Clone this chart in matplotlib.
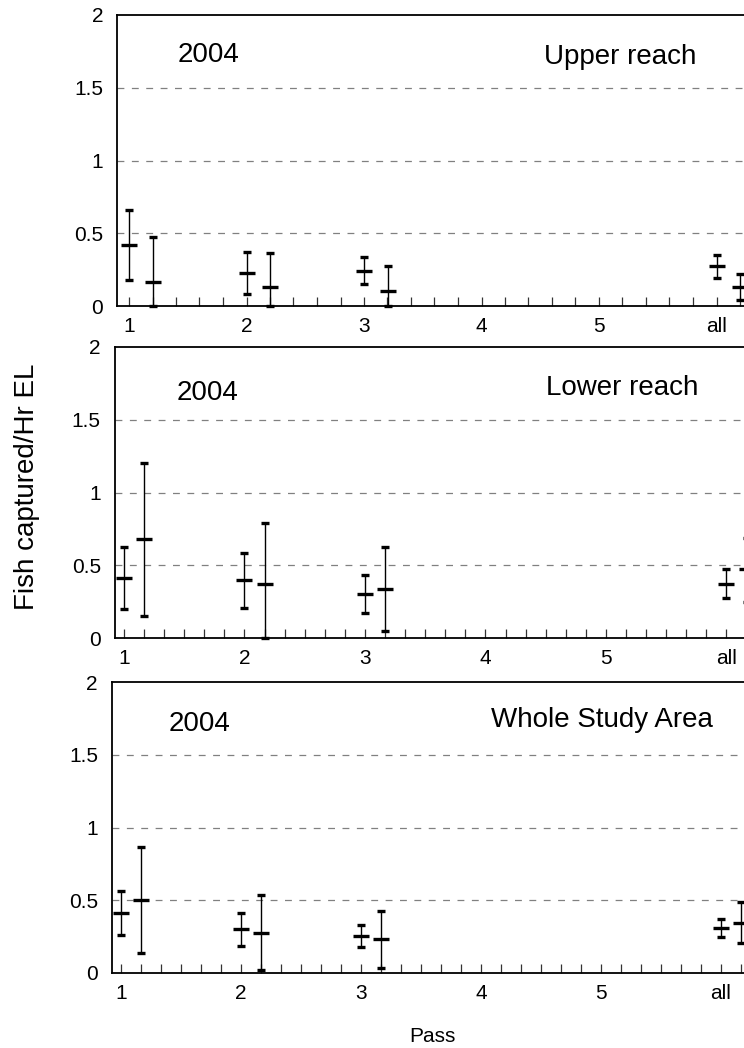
import matplotlib
matplotlib.use("Agg")
import matplotlib.pyplot as plt
import numpy as np

plt.rcParams['font.family'] = ['Liberation Sans', 'DejaVu Sans']

# ---------------- data ----------------
pass_labels = ["1", "2", "3", "4", "5", "all"]
pass_pos = [1, 2, 3, 6]          # positions of passes that have data (1,2,3,all)
year_label = "2004"
panel_titles = ["Upper reach", "Lower reach", "Whole Study Area"]

# Upper reach
up_s1_mean = [0.42, 0.225, 0.243, 0.275]
up_s1_low = [0.179, 0.08, 0.149, 0.195]
up_s1_high = [0.66, 0.373, 0.337, 0.35]
up_s2_mean = [0.163, 0.133, 0.105, 0.128]
up_s2_low = [0.0, 0.0, 0.0, 0.043]
up_s2_high = [0.472, 0.366, 0.277, 0.22]

# Lower reach
lo_s1_mean = [0.41, 0.399, 0.305, 0.371]
lo_s1_low = [0.201, 0.208, 0.172, 0.273]
lo_s1_high = [0.623, 0.586, 0.433, 0.474]
lo_s2_mean = [0.678, 0.369, 0.339, 0.472]
lo_s2_low = [0.153, 0.0, 0.05, 0.25]
lo_s2_high = [1.2, 0.788, 0.628, 0.685]

# Whole study area
wh_s1_mean = [0.41, 0.30, 0.254, 0.311]
wh_s1_low = [0.259, 0.186, 0.181, 0.25]
wh_s1_high = [0.564, 0.415, 0.33, 0.373]
wh_s2_mean = [0.502, 0.277, 0.231, 0.341]
wh_s2_low = [0.137, 0.02, 0.037, 0.204]
wh_s2_high = [0.866, 0.534, 0.428, 0.488]

y_ticks = [0, 0.5, 1, 1.5, 2]
y_ticklabels = ["0", "0.5", "1", "1.5", "2"]

# ---------------- layout ----------------
W, H = 744, 1048
fig = plt.figure(figsize=(W / 100, H / 100), dpi=100)

# (spine_left_px, top_px, bottom_px, pass1_px, unit_px, minor_step)
layouts = [
    (117.0, 15.0, 306.0, 129.0, 117.5, 0.2),
    (114.7, 347.0, 638.0, 124.0, 120.5, 1 / 6),
    (111.8, 682.0, 973.0, 121.0, 120.0, 1 / 6),
]
panels = [
    (up_s1_mean, up_s1_low, up_s1_high, up_s2_mean, up_s2_low, up_s2_high),
    (lo_s1_mean, lo_s1_low, lo_s1_high, lo_s2_mean, lo_s2_low, lo_s2_high),
    (wh_s1_mean, wh_s1_low, wh_s1_high, wh_s2_mean, wh_s2_low, wh_s2_high),
]
# text anchor pixel positions (left x, center y): year label, title
text_pos = [
    ((178, 55), (544, 57)),
    ((177, 393), (546, 388)),
    ((169, 724), (491, 720)),
]

XMAX = 6.5
for i, ((left, top, bottom, p1, unit, step), data) in enumerate(zip(layouts, panels)):
    xmin = 1 - (p1 - left) / unit
    right = p1 + (XMAX - 1) * unit
    ax = fig.add_axes([left / W, 1 - bottom / H, (right - left) / W, (bottom - top) / H])
    ax.set_xlim(xmin, XMAX)
    ax.set_ylim(0, 2)

    for yv in y_ticks[1:-1]:
        ax.axhline(yv, color="#808080", lw=0.9, dashes=(5.5, 6.0), zorder=1)

    s1m, s1l, s1h, s2m, s2l, s2h = [np.array(a) for a in data]
    x1 = np.array(pass_pos, dtype=float)
    x2 = x1 + step
    for x, m, lo, hi in ((x1, s1m, s1l, s1h), (x2, s2m, s2l, s2h)):
        ax.errorbar(x, m, yerr=[m - lo, hi - m], fmt="_", color="black",
                    ms=11.5, mew=2.4, elinewidth=1.0, capsize=2.8, capthick=1.0,
                    zorder=3, clip_on=False)

    ax.set_yticks(y_ticks)
    ax.set_yticklabels(y_ticklabels)
    ax.tick_params(axis="y", length=0, pad=10, labelsize=15)

    ax.set_xticks([1, 2, 3, 4, 5, 6])
    ax.set_xticklabels(pass_labels)
    ax.set_xticks(np.arange(1, XMAX, step), minor=True)
    ax.tick_params(axis="x", which="both", direction="in", length=6.2, width=0.9,
                   color="#333333", labelsize=15, pad=8)

    for sp in ax.spines.values():
        sp.set_linewidth(1.3)
        sp.set_zorder(4)

    (yx, yy), (tx, ty) = text_pos[i]
    fig.text(yx / W, 1 - yy / H, year_label, ha="left", va="center", fontsize=20)
    fig.text(tx / W, 1 - ty / H, panel_titles[i], ha="left", va="center", fontsize=20)

fig.text(27 / W, 1 - 487 / H, "Fish captured/Hr EL", rotation=90,
         ha="center", va="center", fontsize=20)
fig.text(432 / W, 1 - 1037 / H, "Pass", ha="center", va="center", fontsize=15)

fig.savefig("out.png", dpi=100)
